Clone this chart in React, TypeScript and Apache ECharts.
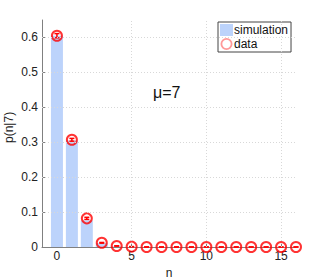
import React, { useEffect, useRef } from "react";
import * as echarts from "echarts";

const nValues = [0, 1, 2, 3, 4, 5, 6, 7, 8, 9, 10, 11, 12, 13, 14, 15, 16];
const simulation = [0.605, 0.305, 0.076, 0.011, 0.002, 0, 0, 0, 0, 0, 0, 0, 0, 0, 0, 0, 0];
const dataValues = [0.605, 0.307, 0.082, 0.012, 0.003, 0.001, 0, 0, 0, 0, 0, 0, 0, 0, 0, 0, 0];
const dataErrors = [0.006, 0.004, 0.003, 0.001, 0.0005, 0, 0, 0, 0, 0, 0, 0, 0, 0, 0, 0, 0];
const xTicks = [0, 5, 10, 15];
const yTicks = [0, 0.1, 0.2, 0.3, 0.4, 0.5, 0.6];
const yGrid = [0.1, 0.2, 0.3, 0.4, 0.5, 0.6];
const xGrid = [5, 10, 15];

export default function App() {
  const ref = useRef<HTMLDivElement>(null);
  useEffect(() => {
    if (!ref.current) return;
    const chart = echarts.init(ref.current, null, { renderer: "svg" });
    const font = "Liberation Sans, Arial, sans-serif";
    const gridStyle = { color: "#d8d8d8", type: [1, 2] as any, width: 1 };
    chart.setOption({
      animation: false,
      grid: { left: 42, right: 31, top: 20, bottom: 32, containLabel: false, outerBoundsMode: "none" },
      xAxis: {
        type: "value",
        min: -1,
        max: 16,
        name: "n",
        nameLocation: "middle",
        nameGap: 17,
        nameTextStyle: { fontFamily: font, fontSize: 12, color: "#222" },
        axisLine: { show: true, onZero: false, lineStyle: { color: "#808080", width: 1 } },
        axisTick: { show: true, inside: true, length: 3, customValues: xTicks, lineStyle: { color: "#808080" } },
        axisLabel: { customValues: xTicks, fontFamily: font, fontSize: 12, color: "#222", margin: 3 },
        splitLine: { show: false },
      },
      yAxis: {
        type: "value",
        min: 0,
        max: 0.65,
        axisLine: { show: true, onZero: false, lineStyle: { color: "#808080", width: 1 } },
        axisTick: { show: true, inside: true, length: 3, customValues: yTicks, lineStyle: { color: "#808080" } },
        axisLabel: { customValues: yTicks, fontFamily: font, fontSize: 12, color: "#222", margin: 4 },
        splitLine: { show: false },
      },
      legend: {
        left: 218,
        top: 22,
        orient: "vertical",
        itemWidth: 13,
        itemHeight: 12,
        itemGap: 2,
        padding: [2, 3, 2, 2],
        borderColor: "#444",
        borderWidth: 1,
        backgroundColor: "#fff",
        textStyle: { fontFamily: font, fontSize: 12, color: "#111", padding: [0, 0, 0, -4] },
        data: [
          { name: "simulation", icon: "rect" },
          {
            name: "data",
            icon: "path://M0,0.5 A0.5,0.5 0 1 1 1,0.5 A0.5,0.5 0 1 1 0,0.5 Z M0.15,0.5 A0.35,0.35 0 1 0 0.85,0.5 A0.35,0.35 0 1 0 0.15,0.5 Z",
            itemStyle: { color: "#ff8080", borderWidth: 0 },
          },
        ],
      },
      graphic: [
        {
          type: "text",
          left: 153,
          top: 84,
          style: { text: "μ=7", fontFamily: font, fontSize: 16, fill: "#111" },
        },
        {
          type: "text",
          x: 3,
          y: 143,
          rotation: Math.PI / 2,
          style: { text: "p(n|7)", fontFamily: font, fontSize: 12, fill: "#222", textVerticalAlign: "top" },
        },
      ],
      series: [
        {
          type: "line",
          data: [],
          z: 1,
          silent: true,
          markLine: {
            silent: true,
            symbol: "none",
            label: { show: false },
            lineStyle: gridStyle,
            data: [
              ...yGrid.map((v) => ({ yAxis: v })),
              ...xGrid.map((v) => ({ xAxis: v })),
            ],
          },
        },
        {
          name: "simulation",
          type: "bar",
          z: 2,
          barWidth: 12,
          itemStyle: { color: "#bcd3fb" },
          data: nValues.map((n, i) => [n, simulation[i]]),
        },
        {
          name: "errors",
          type: "custom",
          z: 3,
          renderItem: (params: any, api: any) => {
            const x = api.value(0);
            const y = api.value(1);
            const e = api.value(2);
            const top = api.coord([x, y + e]);
            const bot = api.coord([x, y - e]);
            const cx = top[0];
            const style = { stroke: "#ff0000", lineWidth: 1.5 };
            return {
              type: "group",
              children: [
                { type: "line", shape: { x1: cx, y1: top[1], x2: cx, y2: bot[1] }, style },
                { type: "line", shape: { x1: cx - 2.5, y1: top[1], x2: cx + 2.5, y2: top[1] }, style },
                { type: "line", shape: { x1: cx - 2.5, y1: bot[1], x2: cx + 2.5, y2: bot[1] }, style },
              ],
            };
          },
          data: nValues.map((n, i) => [n, dataValues[i], dataErrors[i]]),
        },
        {
          name: "data",
          type: "scatter",
          z: 4,
          symbol: "circle",
          symbolSize: 10,
          itemStyle: { color: "rgba(0,0,0,0)", borderColor: "#ff0000", borderWidth: 2 },
          data: nValues.map((n, i) => [n, dataValues[i]]),
        },
      ],
    });
    return () => chart.dispose();
  }, []);
  return <div ref={ref} style={{ position: "absolute", left: 0, top: 0, width: 327, height: 279, background: "#fff" }} />;
}
